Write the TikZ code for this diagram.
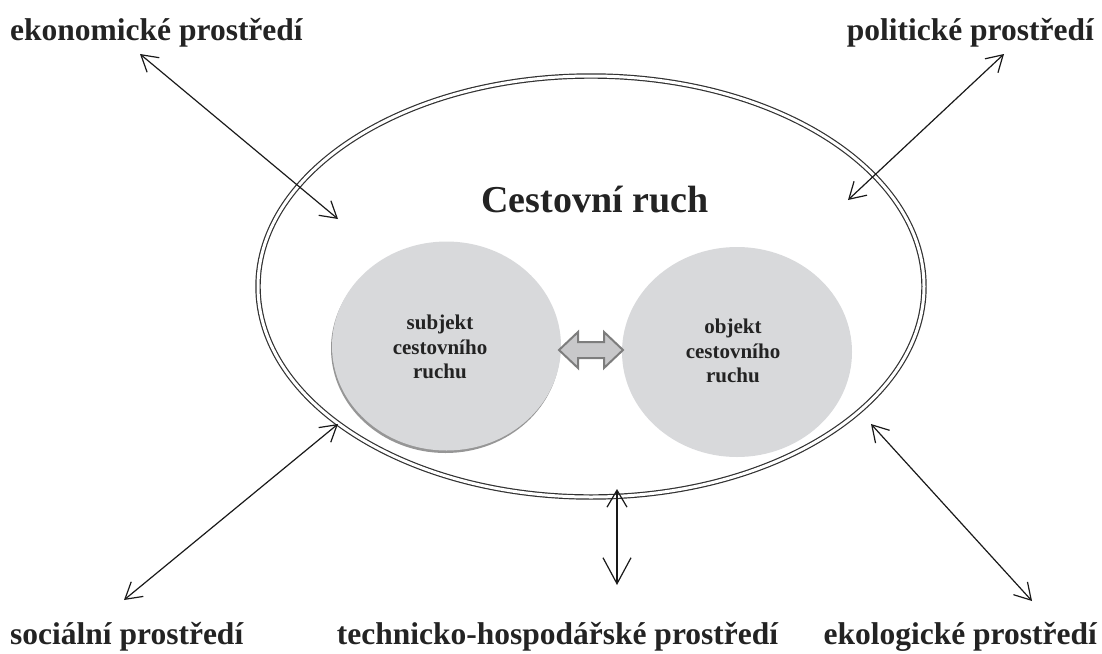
\documentclass[tikz,border=0pt]{standalone}
\usepackage{fontspec}
\setmainfont{Liberation Serif}
\usetikzlibrary{arrows.meta}
\definecolor{txt}{RGB}{35,35,35}
\definecolor{disc}{RGB}{216,217,219}
\definecolor{rim}{RGB}{150,150,150}
\definecolor{blk}{RGB}{200,200,202}
\definecolor{blkline}{RGB}{125,125,125}
\tikzset{
  lbl/.style={font=\fontsize{31.5}{36}\selectfont\bfseries, text=txt, inner sep=0pt},
  disctext/.style={font=\fontsize{21}{24.5}\selectfont\bfseries, text=txt, align=center, inner sep=0pt},
  conn/.style={line width=1.2pt, draw={rgb,255:red,25;green,25;blue,25}},
  barbA/.tip={Straight Barb[length=16pt,width=19pt,line width=1.2pt]},
  barbS/.tip={Straight Barb[length=17pt,width=20pt,line width=1.2pt]},
  barbB/.tip={Straight Barb[length=26pt,width=28pt,line width=1.2pt]},
  outer/.style={draw={rgb,255:red,50;green,50;blue,50}, line width=1.2pt, double=white, double distance=3pt}
}
\begin{document}
\begin{tikzpicture}[x=1pt,y=-1pt]
\useasboundingbox (0,0) rectangle (1102,653);
% big ellipse
\coordinate (ctr) at (591,286.5);
\draw[outer] (ctr) ellipse [x radius=333pt, y radius=210.5pt];
\node[font=\fontsize{38}{44}\selectfont\bfseries, text=txt, inner sep=0pt, anchor=base] (title) at (595,212) {Cestovní ruch};
% discs
\fill[rim] (445.5,348.5) ellipse [x radius=114.5pt, y radius=104.5pt];
\fill[disc] (446.5,346) ellipse [x radius=114.5pt, y radius=104.5pt];
\node[disctext] (subj) at (440,347) {subjekt\\cestovního\\ruchu};
\fill[disc] (737,352) ellipse [x radius=115pt, y radius=105pt];
\node[disctext] (obj) at (733,351) {objekt\\cestovního\\ruchu};
% block double arrow
\coordinate (bl) at (559,350);
\coordinate (br) at (623,350);
\filldraw[fill=blk, draw=blkline, line width=2pt, line join=miter]
  (bl) -- (578,332) -- (578,342) -- (604,342) -- (604,332) -- (br)
  -- (604,368) -- (604,358) -- (578,358) -- (578,368) -- cycle;
% labels
\node[lbl, anchor=base west] (eko) at (10,40) {ekonomické prostředí};
\node[lbl, anchor=base east] (pol) at (1094,40) {politické prostředí};
\node[lbl, anchor=base west] (soc) at (10,644) {sociální prostředí};
\node[lbl, anchor=base] (tech) at (557.5,644) {technicko-hospodářské prostředí};
\node[lbl, anchor=base east] (ekol) at (1097,644) {ekologické prostředí};
% connector end points
\coordinate (ekoA) at (140,54);
\coordinate (ekoB) at (338,219);
\coordinate (polA) at (1004,54);
\coordinate (polB) at (848,200);
\coordinate (socA) at (124,600);
\coordinate (socB) at (338,424);
\coordinate (techA) at (617,489);
\coordinate (techB) at (617,585);
\coordinate (ekolA) at (871,424);
\coordinate (ekolB) at (1032,601);
% connectors
\draw[conn, barbA-barbA] (ekoA) -- (ekoB);
\draw[conn, barbA-barbA] (polA) -- (polB);
\draw[conn, barbA-barbA] (socA) -- (socB);
\draw[conn, barbS-barbB] (techA) -- (techB);
\draw[conn, barbA-barbA] (ekolA) -- (ekolB);
\end{tikzpicture}
\end{document}
